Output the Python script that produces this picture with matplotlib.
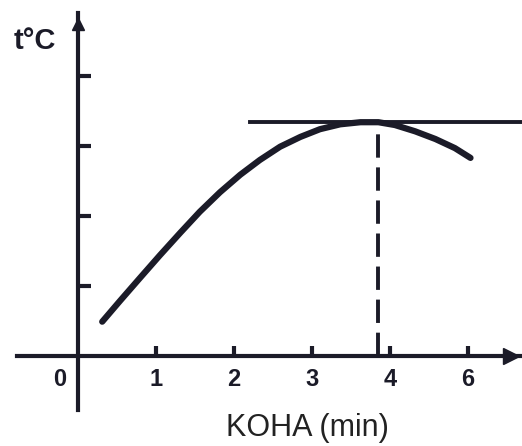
import numpy as np
import matplotlib.pyplot as plt

# curve (x in min, y in tick units)
time_min = [0.31, 0.54, 0.79, 1.05, 1.31, 1.56, 1.82, 2.08, 2.33, 2.59,
            2.85, 3.10, 3.36, 3.62, 3.85, 4.06, 4.32, 4.58, 4.83, 5.03]
temp = [0.49, 0.79, 1.11, 1.44, 1.76, 2.06, 2.34, 2.59, 2.80, 2.99,
        3.13, 3.24, 3.31, 3.34, 3.34, 3.30, 3.21, 3.10, 2.97, 2.83]
x_ticks = [1, 2, 3, 4, 5]
x_ticklabels = ['1', '2', '3', '4', '6']
y_ticks = [1, 2, 3, 4]
t_peak = 3.85
temp_peak = 3.34

ink = '#1b1b28'
plt.rcParams['font.family'] = ['Liberation Sans', 'DejaVu Sans']

fig = plt.figure(figsize=(5.22, 4.46), dpi=100)
ax = fig.add_axes([0, 0, 1, 1])
ax.set_xlim(-1.0, 5.69)
ax.set_ylim(-1.286, 5.086)

for s in ['top', 'right']:
    ax.spines[s].set_visible(False)
ax.spines['left'].set_position(('data', 0))
ax.spines['bottom'].set_position(('data', 0))
ax.spines['left'].set_bounds(-0.77, 4.9)
ax.spines['bottom'].set_bounds(-0.78, 5.69)
for s in ['left', 'bottom']:
    ax.spines[s].set_linewidth(3)
    ax.spines[s].set_color(ink)

ax.set_xticks(x_ticks)
ax.set_xticklabels(x_ticklabels, fontweight='bold', fontsize=17, color=ink)
ax.set_yticks(y_ticks)
ax.set_yticklabels([])
ax.tick_params(axis='x', direction='in', length=7, width=3, color=ink, pad=9)
ax.tick_params(axis='y', direction='in', length=9, width=3, color=ink)

# arrow heads
ax.plot([5.55], [0], marker='>', markersize=11, color=ink, clip_on=False)
ax.plot([0], [4.75], marker='^', markersize=9, color=ink, clip_on=False)

ax.plot(time_min, temp, color=ink, lw=4.5, solid_capstyle='round', solid_joinstyle='round')
ax.plot([2.2, 5.69], [temp_peak, temp_peak], color=ink, lw=2.8)
ax.plot([t_peak, t_peak], [0, temp_peak], color=ink, lw=2.8, linestyle=(0, (6, 2.5)))

ax.text(-0.23, -0.33, '0', fontweight='bold', fontsize=17, color=ink, ha='center', va='center')
ax.text(-0.55, 4.5, 't°C', fontweight='bold', fontsize=21, color=ink, ha='center', va='center')
ax.text(2.94, -1.03, 'KOHA (min)', fontsize=22, color='#222222', ha='center', va='center')

fig.savefig('out.png', dpi=100)
